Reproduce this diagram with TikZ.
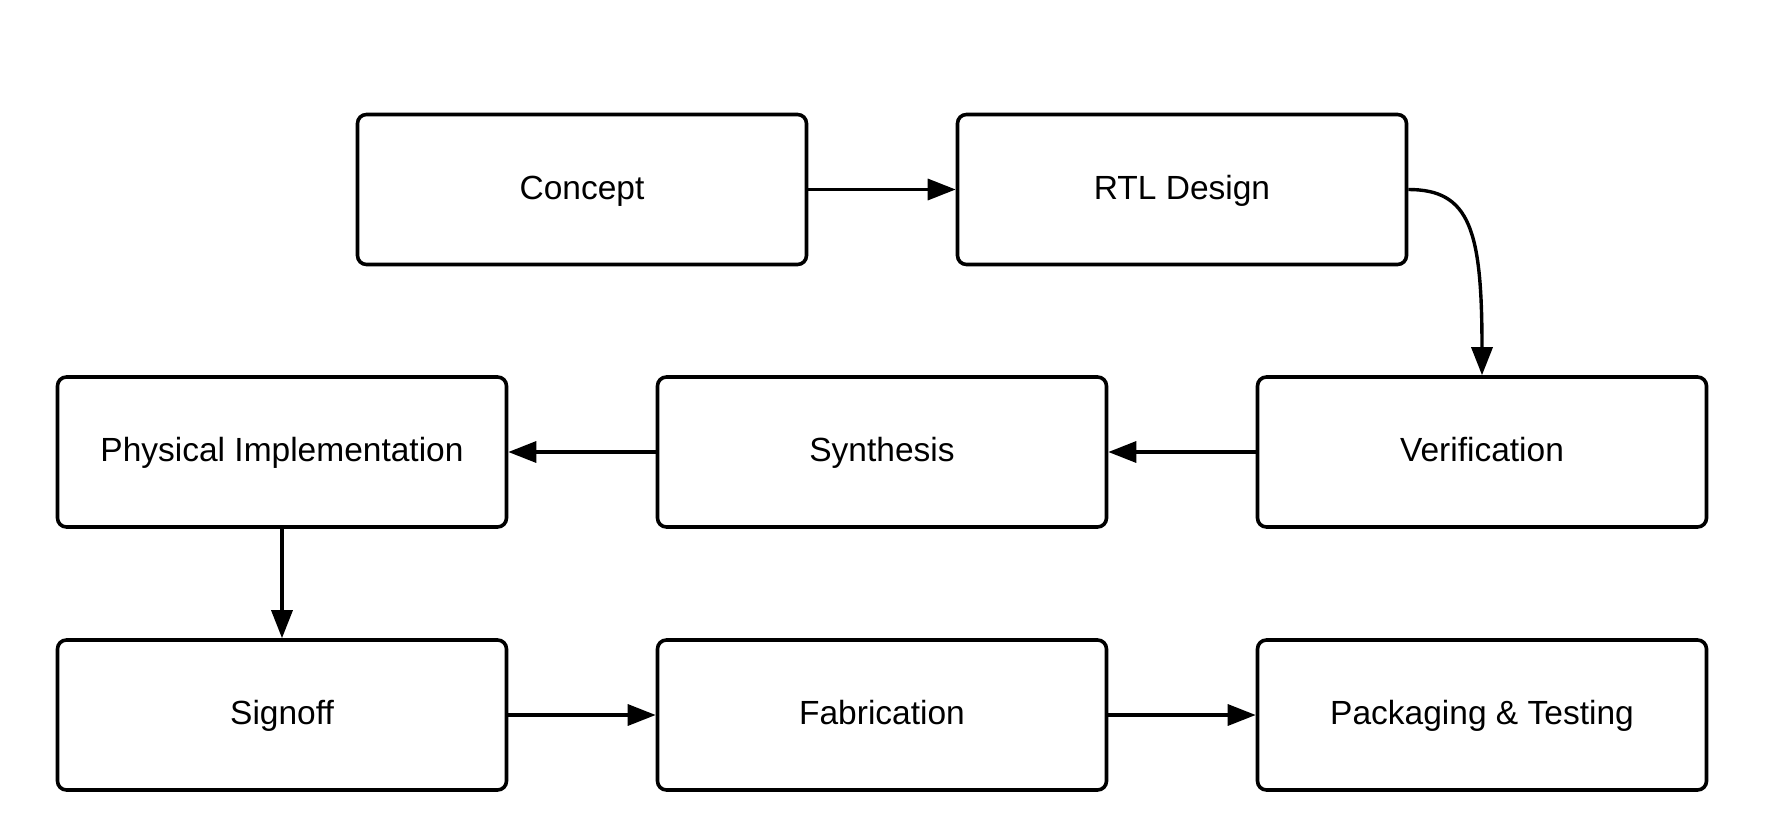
\documentclass[tikz,border=0pt]{standalone}
\usepackage{fontspec}
\setmainfont{Liberation Sans}
\usetikzlibrary{arrows.meta}
\begin{document}
\begin{tikzpicture}[x=1pt,y=-1pt,
  stepbox/.style={draw=black, line width=3.6pt, rounded corners=9pt, minimum width=449pt, minimum height=150pt, inner sep=0pt, text height=25.5pt, text depth=6.5pt, font=\fontsize{33.5}{40}\selectfont, fill=white},
  flow/.style={line width=3.4pt, -{Triangle[length=28pt,width=21pt]}}]
\useasboundingbox (0,0) rectangle (1775,835);
\fill[white] (0,0) rectangle (1775,835);
\node[stepbox] (concept) at (582,189.5) {Concept};
\node[stepbox] (rtl) at (1182,189.5) {RTL Design};
\node[stepbox] (phys) at (282,452) {Physical Implementation};
\node[stepbox] (synth) at (882,452) {Synthesis};
\node[stepbox] (verif) at (1482,452) {Verification};
\node[stepbox] (sign) at (282,715) {Signoff};
\node[stepbox] (fab) at (882,715) {Fabrication};
\node[stepbox] (pack) at (1482,715) {Packaging \& Testing};
\draw[flow] (concept.east) -- (rtl.west);
\draw[flow] (rtl.east) .. controls (1470,189.5) and (1482,230) .. (verif.north);
\draw[flow] (verif.west) -- (synth.east);
\draw[flow] (synth.west) -- (phys.east);
\draw[flow] (phys.south) -- (sign.north);
\draw[flow] (sign.east) -- (fab.west);
\draw[flow] (fab.east) -- (pack.west);
\end{tikzpicture}
\end{document}
